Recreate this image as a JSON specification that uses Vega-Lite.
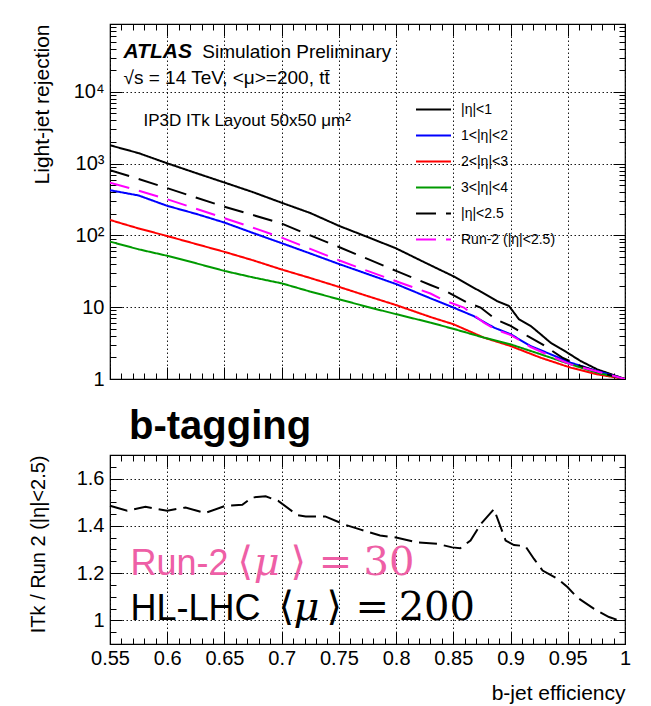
{
  "$schema": "https://vega.github.io/schema/vega-lite/v6.json",
  "padding": {"top": 22, "left": 27, "right": 26, "bottom": 5},
  "background": "white",
  "spacing": 15,
  "datasets": {
    "curves": [
      {"series": "|η|<1", "eff": 0.55, "rej": 1800},
      {"series": "|η|<1", "eff": 0.575, "rej": 1400},
      {"series": "|η|<1", "eff": 0.6, "rej": 1010},
      {"series": "|η|<1", "eff": 0.625, "rej": 740},
      {"series": "|η|<1", "eff": 0.65, "rej": 545},
      {"series": "|η|<1", "eff": 0.675, "rej": 400},
      {"series": "|η|<1", "eff": 0.7, "rej": 285},
      {"series": "|η|<1", "eff": 0.725, "rej": 205},
      {"series": "|η|<1", "eff": 0.75, "rej": 136},
      {"series": "|η|<1", "eff": 0.775, "rej": 95},
      {"series": "|η|<1", "eff": 0.8, "rej": 66},
      {"series": "|η|<1", "eff": 0.825, "rej": 42},
      {"series": "|η|<1", "eff": 0.85, "rej": 27},
      {"series": "|η|<1", "eff": 0.8738, "rej": 16.5},
      {"series": "|η|<1", "eff": 0.888, "rej": 12.2},
      {"series": "|η|<1", "eff": 0.8986, "rej": 10.4},
      {"series": "|η|<1", "eff": 0.9073, "rej": 6.8},
      {"series": "|η|<1", "eff": 0.9175, "rej": 5.5},
      {"series": "|η|<1", "eff": 0.9263, "rej": 4.2},
      {"series": "|η|<1", "eff": 0.935, "rej": 3.2},
      {"series": "|η|<1", "eff": 0.9496, "rej": 2.33},
      {"series": "|η|<1", "eff": 0.9612, "rej": 1.78},
      {"series": "|η|<1", "eff": 0.9758, "rej": 1.36},
      {"series": "|η|<1", "eff": 1.0, "rej": 1},
      {"series": "1<|η|<2", "eff": 0.55, "rej": 426},
      {"series": "1<|η|<2", "eff": 0.575, "rej": 360},
      {"series": "1<|η|<2", "eff": 0.6, "rej": 258},
      {"series": "1<|η|<2", "eff": 0.625, "rej": 200},
      {"series": "1<|η|<2", "eff": 0.65, "rej": 151},
      {"series": "1<|η|<2", "eff": 0.675, "rej": 108},
      {"series": "1<|η|<2", "eff": 0.7, "rej": 78},
      {"series": "1<|η|<2", "eff": 0.725, "rej": 56},
      {"series": "1<|η|<2", "eff": 0.75, "rej": 40},
      {"series": "1<|η|<2", "eff": 0.775, "rej": 29},
      {"series": "1<|η|<2", "eff": 0.8, "rej": 21},
      {"series": "1<|η|<2", "eff": 0.83, "rej": 13.3},
      {"series": "1<|η|<2", "eff": 0.85, "rej": 9.9},
      {"series": "1<|η|<2", "eff": 0.868, "rej": 7.5},
      {"series": "1<|η|<2", "eff": 0.8855, "rej": 5.2},
      {"series": "1<|η|<2", "eff": 0.9, "rej": 4.2},
      {"series": "1<|η|<2", "eff": 0.9175, "rej": 2.88},
      {"series": "1<|η|<2", "eff": 0.935, "rej": 2.21},
      {"series": "1<|η|<2", "eff": 0.9525, "rej": 1.69},
      {"series": "1<|η|<2", "eff": 0.975, "rej": 1.3},
      {"series": "1<|η|<2", "eff": 1.0, "rej": 1},
      {"series": "2<|η|<3", "eff": 0.55, "rej": 164},
      {"series": "2<|η|<3", "eff": 0.575, "rej": 125},
      {"series": "2<|η|<3", "eff": 0.6, "rej": 98},
      {"series": "2<|η|<3", "eff": 0.625, "rej": 76},
      {"series": "2<|η|<3", "eff": 0.65, "rej": 59},
      {"series": "2<|η|<3", "eff": 0.675, "rej": 45},
      {"series": "2<|η|<3", "eff": 0.7, "rej": 33.5},
      {"series": "2<|η|<3", "eff": 0.725, "rej": 25.5},
      {"series": "2<|η|<3", "eff": 0.75, "rej": 19.2},
      {"series": "2<|η|<3", "eff": 0.775, "rej": 14.3},
      {"series": "2<|η|<3", "eff": 0.8, "rej": 10.7},
      {"series": "2<|η|<3", "eff": 0.83, "rej": 7.3},
      {"series": "2<|η|<3", "eff": 0.85, "rej": 5.8},
      {"series": "2<|η|<3", "eff": 0.8767, "rej": 3.77},
      {"series": "2<|η|<3", "eff": 0.9, "rej": 2.88},
      {"series": "2<|η|<3", "eff": 0.9263, "rej": 1.98},
      {"series": "2<|η|<3", "eff": 0.9525, "rej": 1.44},
      {"series": "2<|η|<3", "eff": 0.9758, "rej": 1.16},
      {"series": "2<|η|<3", "eff": 1.0, "rej": 1},
      {"series": "3<|η|<4", "eff": 0.55, "rej": 82},
      {"series": "3<|η|<4", "eff": 0.575, "rej": 64},
      {"series": "3<|η|<4", "eff": 0.6, "rej": 52},
      {"series": "3<|η|<4", "eff": 0.625, "rej": 41},
      {"series": "3<|η|<4", "eff": 0.65, "rej": 32},
      {"series": "3<|η|<4", "eff": 0.675, "rej": 26},
      {"series": "3<|η|<4", "eff": 0.7, "rej": 21.5},
      {"series": "3<|η|<4", "eff": 0.725, "rej": 16.5},
      {"series": "3<|η|<4", "eff": 0.75, "rej": 12.9},
      {"series": "3<|η|<4", "eff": 0.775, "rej": 10.1},
      {"series": "3<|η|<4", "eff": 0.8, "rej": 8.0},
      {"series": "3<|η|<4", "eff": 0.83, "rej": 6.1},
      {"series": "3<|η|<4", "eff": 0.85, "rej": 5.0},
      {"series": "3<|η|<4", "eff": 0.8767, "rej": 3.77},
      {"series": "3<|η|<4", "eff": 0.9, "rej": 3.04},
      {"series": "3<|η|<4", "eff": 0.9263, "rej": 2.21},
      {"series": "3<|η|<4", "eff": 0.9525, "rej": 1.6},
      {"series": "3<|η|<4", "eff": 0.9758, "rej": 1.22},
      {"series": "3<|η|<4", "eff": 1.0, "rej": 1},
      {"series": "|η|<2.5", "eff": 0.55, "rej": 811},
      {"series": "|η|<2.5", "eff": 0.575, "rej": 610},
      {"series": "|η|<2.5", "eff": 0.6, "rej": 455},
      {"series": "|η|<2.5", "eff": 0.625, "rej": 338},
      {"series": "|η|<2.5", "eff": 0.65, "rej": 250},
      {"series": "|η|<2.5", "eff": 0.675, "rej": 192},
      {"series": "|η|<2.5", "eff": 0.7, "rej": 146},
      {"series": "|η|<2.5", "eff": 0.725, "rej": 100},
      {"series": "|η|<2.5", "eff": 0.75, "rej": 69},
      {"series": "|η|<2.5", "eff": 0.775, "rej": 47},
      {"series": "|η|<2.5", "eff": 0.8, "rej": 32},
      {"series": "|η|<2.5", "eff": 0.83, "rej": 20.4},
      {"series": "|η|<2.5", "eff": 0.8432, "rej": 16.8},
      {"series": "|η|<2.5", "eff": 0.8622, "rej": 11.6},
      {"series": "|η|<2.5", "eff": 0.8738, "rej": 9.9},
      {"series": "|η|<2.5", "eff": 0.8869, "rej": 6.8},
      {"series": "|η|<2.5", "eff": 0.9, "rej": 5.5},
      {"series": "|η|<2.5", "eff": 0.9147, "rej": 3.98},
      {"series": "|η|<2.5", "eff": 0.9278, "rej": 3.04},
      {"series": "|η|<2.5", "eff": 0.9452, "rej": 1.98},
      {"series": "|η|<2.5", "eff": 0.9612, "rej": 1.52},
      {"series": "|η|<2.5", "eff": 0.98, "rej": 1.2},
      {"series": "|η|<2.5", "eff": 1.0, "rej": 1},
      {"series": "Run-2 (|η|<2.5)", "eff": 0.55, "rej": 544},
      {"series": "Run-2 (|η|<2.5)", "eff": 0.575, "rej": 420},
      {"series": "Run-2 (|η|<2.5)", "eff": 0.6, "rej": 319},
      {"series": "Run-2 (|η|<2.5)", "eff": 0.625, "rej": 236},
      {"series": "Run-2 (|η|<2.5)", "eff": 0.65, "rej": 174},
      {"series": "Run-2 (|η|<2.5)", "eff": 0.675, "rej": 128},
      {"series": "Run-2 (|η|<2.5)", "eff": 0.7, "rej": 93},
      {"series": "Run-2 (|η|<2.5)", "eff": 0.725, "rej": 65},
      {"series": "Run-2 (|η|<2.5)", "eff": 0.75, "rej": 45},
      {"series": "Run-2 (|η|<2.5)", "eff": 0.775, "rej": 32},
      {"series": "Run-2 (|η|<2.5)", "eff": 0.8, "rej": 23},
      {"series": "Run-2 (|η|<2.5)", "eff": 0.83, "rej": 15.5},
      {"series": "Run-2 (|η|<2.5)", "eff": 0.8418, "rej": 12.5},
      {"series": "Run-2 (|η|<2.5)", "eff": 0.8592, "rej": 9.9},
      {"series": "Run-2 (|η|<2.5)", "eff": 0.865, "rej": 8.4},
      {"series": "Run-2 (|η|<2.5)", "eff": 0.8767, "rej": 6.1},
      {"series": "Run-2 (|η|<2.5)", "eff": 0.8869, "rej": 4.9},
      {"series": "Run-2 (|η|<2.5)", "eff": 0.9, "rej": 4.1},
      {"series": "Run-2 (|η|<2.5)", "eff": 0.9088, "rej": 3.39},
      {"series": "Run-2 (|η|<2.5)", "eff": 0.9175, "rej": 2.79},
      {"series": "Run-2 (|η|<2.5)", "eff": 0.935, "rej": 2.09},
      {"series": "Run-2 (|η|<2.5)", "eff": 0.9525, "rej": 1.6},
      {"series": "Run-2 (|η|<2.5)", "eff": 0.975, "rej": 1.28},
      {"series": "Run-2 (|η|<2.5)", "eff": 1.0, "rej": 1}
    ],
    "ratio": [
      {"eff": 0.55, "ratio": 1.485},
      {"eff": 0.565, "ratio": 1.464},
      {"eff": 0.581, "ratio": 1.481},
      {"eff": 0.6, "ratio": 1.464},
      {"eff": 0.616, "ratio": 1.478},
      {"eff": 0.633, "ratio": 1.454},
      {"eff": 0.651, "ratio": 1.485},
      {"eff": 0.6656, "ratio": 1.489},
      {"eff": 0.674, "ratio": 1.52},
      {"eff": 0.686, "ratio": 1.525},
      {"eff": 0.697, "ratio": 1.506},
      {"eff": 0.7136, "ratio": 1.446},
      {"eff": 0.721, "ratio": 1.44},
      {"eff": 0.738, "ratio": 1.44},
      {"eff": 0.756, "ratio": 1.404},
      {"eff": 0.769, "ratio": 1.384},
      {"eff": 0.786, "ratio": 1.359},
      {"eff": 0.8, "ratio": 1.351},
      {"eff": 0.8185, "ratio": 1.33},
      {"eff": 0.836, "ratio": 1.324},
      {"eff": 0.849, "ratio": 1.309},
      {"eff": 0.856, "ratio": 1.305},
      {"eff": 0.865, "ratio": 1.338},
      {"eff": 0.874, "ratio": 1.408},
      {"eff": 0.8855, "ratio": 1.471},
      {"eff": 0.8957, "ratio": 1.338},
      {"eff": 0.903, "ratio": 1.319},
      {"eff": 0.913, "ratio": 1.314},
      {"eff": 0.9205, "ratio": 1.26},
      {"eff": 0.928, "ratio": 1.211},
      {"eff": 0.942, "ratio": 1.173},
      {"eff": 0.9497, "ratio": 1.141},
      {"eff": 0.958, "ratio": 1.098},
      {"eff": 0.973, "ratio": 1.049},
      {"eff": 0.986, "ratio": 1.014},
      {"eff": 0.9947, "ratio": 1.0}
    ]
  },
  "vconcat": [
    {
      "width": 515,
      "height": 355,
      "layer": [
        {
          "data": {"name": "curves"},
          "mark": {"type": "line", "strokeWidth": 2, "clip": true},
          "encoding": {
            "x": {
              "field": "eff", "type": "quantitative",
              "scale": {"domain": [0.55, 1.0], "nice": false, "zero": false},
              "axis": {
                "orient": "bottom", "title": null, "labels": false, "domain": false,
                "values": [0.55,0.56,0.57,0.58,0.59,0.6,0.61,0.62,0.63,0.64,0.65,0.66,0.67,0.68,0.69,0.7,0.71,0.72,0.73,0.74,0.75,0.76,0.77,0.78,0.79,0.8,0.81,0.82,0.83,0.84,0.85,0.86,0.87,0.88,0.89,0.9,0.91,0.92,0.93,0.94,0.95,0.96,0.97,0.98,0.99,1],
                "tickSize": {"condition": {"test": "abs(datum.value*20-round(datum.value*20))<1e-6", "value": -12}, "value": -6},
                "grid": true, "gridColor": "#000", "gridWidth": 1, "gridDash": [1.5, 2.5],
                "gridOpacity": {"condition": {"test": "abs(datum.value*20-round(datum.value*20))<1e-6", "value": 0.9}, "value": 0}
              }
            },
            "y": {
              "field": "rej", "type": "quantitative",
              "scale": {"type": "log", "domain": [1, 88000], "nice": false},
              "axis": {
                "orient": "left", "title": "Light-jet rejection", "titleAnchor": "end", "titleFontSize": 21,
                "titleFontWeight": "normal", "titleX": -58, "titleColor": "#000",
                "values": [1,2,3,4,5,6,7,8,9,10,20,30,40,50,60,70,80,90,100,200,300,400,500,600,700,800,900,1000,2000,3000,4000,5000,6000,7000,8000,9000,10000,20000,30000,40000,50000,60000,70000,80000],
                "labelExpr": "datum.value==1?'1':datum.value==10?'10':datum.value==100?'10²':datum.value==1000?'10³':datum.value==10000?'10⁴':''",
                "labelFontSize": 20, "labelPadding": 18, "labelColor": "#000", "domain": false,
                "tickSize": {"condition": {"test": "abs(log(datum.value)/LN10-round(log(datum.value)/LN10))<1e-6", "value": -12}, "value": -6},
                "grid": true, "gridColor": "#000", "gridWidth": 1, "gridDash": [1.5, 2.5],
                "gridOpacity": {"condition": {"test": "abs(log(datum.value)/LN10-round(log(datum.value)/LN10))<1e-6", "value": 0.9}, "value": 0}
              }
            },
            "color": {
              "field": "series", "type": "nominal",
              "scale": {
                "domain": ["|η|<1", "1<|η|<2", "2<|η|<3", "3<|η|<4", "|η|<2.5", "Run-2 (|η|<2.5)"],
                "range": ["#000000", "#0000ff", "#ff0000", "#009a00", "#000000", "#ff00ff"]
              },
              "legend": {
                "title": null, "orient": "none", "legendX": 305, "legendY": 67, "padding": 0,
                "symbolType": "stroke", "symbolSize": 1225, "symbolStrokeWidth": 2,
                "labelFontSize": 14, "labelOffset": 9, "rowPadding": -19.5, "labelLimit": 300, "labelColor": "#000"
              }
            },
            "strokeDash": {
              "field": "series", "type": "nominal",
              "scale": {
                "domain": ["|η|<1", "1<|η|<2", "2<|η|<3", "3<|η|<4", "|η|<2.5", "Run-2 (|η|<2.5)"],
                "range": [[1, 0], [1, 0], [1, 0], [1, 0], [20, 10], [20, 10]]
              },
              "legend": {
                "title": null, "orient": "none", "legendX": 305, "legendY": 67, "padding": 0,
                "symbolType": "stroke", "symbolSize": 1225, "symbolStrokeWidth": 2,
                "labelFontSize": 14, "labelOffset": 9, "rowPadding": -19.5, "labelLimit": 300, "labelColor": "#000"
              }
            }
          }
        },
        {
          "data": {"values": [{"t": "ATLAS", "eff": 0.5618, "val": 29800}]},
          "mark": {"type": "text", "align": "left", "baseline": "alphabetic", "fontSize": 21, "fontWeight": "bold", "fontStyle": "italic", "color": "#000"},
          "encoding": {
            "x": {
              "field": "eff", "type": "quantitative",
              "axis": {
                "orient": "top", "title": null, "labels": false, "domain": false, "grid": false,
                "values": [0.55,0.56,0.57,0.58,0.59,0.6,0.61,0.62,0.63,0.64,0.65,0.66,0.67,0.68,0.69,0.7,0.71,0.72,0.73,0.74,0.75,0.76,0.77,0.78,0.79,0.8,0.81,0.82,0.83,0.84,0.85,0.86,0.87,0.88,0.89,0.9,0.91,0.92,0.93,0.94,0.95,0.96,0.97,0.98,0.99,1],
                "tickSize": {"condition": {"test": "abs(datum.value*20-round(datum.value*20))<1e-6", "value": -12}, "value": -6}
              }
            },
            "y": {
              "field": "val", "type": "quantitative",
              "axis": {
                "orient": "right", "title": null, "labels": false, "domain": false, "grid": false,
                "values": [1,2,3,4,5,6,7,8,9,10,20,30,40,50,60,70,80,90,100,200,300,400,500,600,700,800,900,1000,2000,3000,4000,5000,6000,7000,8000,9000,10000,20000,30000,40000,50000,60000,70000,80000],
                "tickSize": {"condition": {"test": "abs(log(datum.value)/LN10-round(log(datum.value)/LN10))<1e-6", "value": -12}, "value": -6}
              }
            },
            "text": {"field": "t"}
          }
        },
        {
          "data": {"values": [
            {"t": "Simulation Preliminary", "eff": 0.6306, "val": 29800},
            {"t": "√s = 14 TeV, <μ>=200, tt̄", "eff": 0.5618, "val": 12800}
          ]},
          "mark": {"type": "text", "align": "left", "baseline": "alphabetic", "fontSize": 19, "color": "#000"},
          "encoding": {
            "x": {"field": "eff", "type": "quantitative", "axis": null},
            "y": {"field": "val", "type": "quantitative", "axis": null},
            "text": {"field": "t"}
          }
        },
        {
          "data": {"values": [{"t": "IP3D ITk Layout 50x50 μm²", "eff": 0.5793, "val": 3360}]},
          "mark": {"type": "text", "align": "left", "baseline": "alphabetic", "fontSize": 17, "color": "#000"},
          "encoding": {
            "x": {"field": "eff", "type": "quantitative", "axis": null},
            "y": {"field": "val", "type": "quantitative", "axis": null},
            "text": {"field": "t"}
          }
        }
      ],
      "resolve": {"axis": {"x": "independent", "y": "independent"}}
    },
    {
      "width": 515,
      "height": 189,
      "title": {"text": "b-tagging", "fontSize": 40, "fontWeight": "bold", "anchor": "start", "frame": "group", "dx": 19, "baseline": "alphabetic", "offset": -24, "color": "#000"},
      "layer": [
        {
          "data": {"name": "ratio"},
          "mark": {"type": "line", "color": "#000", "strokeWidth": 2, "strokeDash": [18, 7]},
          "encoding": {
            "x": {
              "field": "eff", "type": "quantitative",
              "scale": {"domain": [0.55, 1.0], "nice": false, "zero": false},
              "axis": {
                "orient": "bottom", "title": "b-jet efficiency", "titleAnchor": "end", "titleFontSize": 21,
                "titleFontWeight": "normal", "titlePadding": 14, "titleColor": "#000",
                "values": [0.55,0.56,0.57,0.58,0.59,0.6,0.61,0.62,0.63,0.64,0.65,0.66,0.67,0.68,0.69,0.7,0.71,0.72,0.73,0.74,0.75,0.76,0.77,0.78,0.79,0.8,0.81,0.82,0.83,0.84,0.85,0.86,0.87,0.88,0.89,0.9,0.91,0.92,0.93,0.94,0.95,0.96,0.97,0.98,0.99,1],
                "labelExpr": "abs(datum.value*20-round(datum.value*20))<1e-6 ? format(datum.value, '.2~f') : ''",
                "labelFontSize": 20, "labelPadding": 16, "labelColor": "#000", "labelFlush": false, "domain": false,
                "tickSize": {"condition": {"test": "abs(datum.value*20-round(datum.value*20))<1e-6", "value": -12}, "value": -6},
                "grid": true, "gridColor": "#000", "gridWidth": 1, "gridDash": [1.5, 2.5],
                "gridOpacity": {"condition": {"test": "abs(datum.value*20-round(datum.value*20))<1e-6", "value": 0.9}, "value": 0}
              }
            },
            "y": {
              "field": "ratio", "type": "quantitative",
              "scale": {"domain": [0.9, 1.7], "nice": false, "zero": false},
              "axis": {
                "orient": "left", "title": "ITk / Run 2 (|η|<2.5)", "titleAnchor": "end", "titleFontSize": 20,
                "titleFontWeight": "normal", "titleX": -62, "titleColor": "#000",
                "values": [0.9,0.95,1,1.05,1.1,1.15,1.2,1.25,1.3,1.35,1.4,1.45,1.5,1.55,1.6,1.65,1.7],
                "labelExpr": "abs(datum.value*5-round(datum.value*5))<1e-6 ? (datum.value==1 ? '1' : format(datum.value, '.1f')) : ''",
                "labelFontSize": 20, "labelPadding": 18, "labelColor": "#000", "domain": false,
                "tickSize": {"condition": {"test": "abs(datum.value*5-round(datum.value*5))<1e-6", "value": -12}, "value": -6},
                "grid": true, "gridColor": "#000", "gridWidth": 1, "gridDash": [1.5, 2.5],
                "gridOpacity": {"condition": {"test": "abs(datum.value*5-round(datum.value*5))<1e-6", "value": 0.9}, "value": 0}
              }
            }
          }
        },
        {
          "data": {"values": [{"t": "Run-2", "eff": 0.5679, "val": 1.19}]},
          "mark": {"type": "text", "align": "left", "baseline": "alphabetic", "fontSize": 36, "color": "#ee5fa6"},
          "encoding": {
            "x": {
              "field": "eff", "type": "quantitative",
              "axis": {
                "orient": "top", "title": null, "labels": false, "domain": false, "grid": false,
                "values": [0.55,0.56,0.57,0.58,0.59,0.6,0.61,0.62,0.63,0.64,0.65,0.66,0.67,0.68,0.69,0.7,0.71,0.72,0.73,0.74,0.75,0.76,0.77,0.78,0.79,0.8,0.81,0.82,0.83,0.84,0.85,0.86,0.87,0.88,0.89,0.9,0.91,0.92,0.93,0.94,0.95,0.96,0.97,0.98,0.99,1],
                "tickSize": {"condition": {"test": "abs(datum.value*20-round(datum.value*20))<1e-6", "value": -12}, "value": -6}
              }
            },
            "y": {
              "field": "val", "type": "quantitative",
              "axis": {
                "orient": "right", "title": null, "labels": false, "domain": false, "grid": false,
                "values": [0.9,0.95,1,1.05,1.1,1.15,1.2,1.25,1.3,1.35,1.4,1.45,1.5,1.55,1.6,1.65,1.7],
                "tickSize": {"condition": {"test": "abs(datum.value*5-round(datum.value*5))<1e-6", "value": -12}, "value": -6}
              }
            },
            "text": {"field": "t"}
          }
        },
        {
          "data": {"values": [
            {"t": "⟨", "eff": 0.6615, "val": 1.19},
            {"t": "⟩", "eff": 0.7078, "val": 1.19},
            {"t": "=", "eff": 0.7323, "val": 1.19},
            {"t": "30", "eff": 0.7716, "val": 1.19}
          ]},
          "mark": {"type": "text", "align": "left", "baseline": "alphabetic", "fontSize": 40, "font": "DejaVu Serif", "color": "#ee5fa6"},
          "encoding": {
            "x": {"field": "eff", "type": "quantitative", "axis": null},
            "y": {"field": "val", "type": "quantitative", "axis": null},
            "text": {"field": "t"}
          }
        },
        {
          "data": {"values": [{"t": "μ", "eff": 0.6755, "val": 1.19}]},
          "mark": {"type": "text", "align": "left", "baseline": "alphabetic", "fontSize": 40, "font": "DejaVu Serif", "fontStyle": "italic", "color": "#ee5fa6"},
          "encoding": {
            "x": {"field": "eff", "type": "quantitative", "axis": null},
            "y": {"field": "val", "type": "quantitative", "axis": null},
            "text": {"field": "t"}
          }
        },
        {
          "data": {"values": [{"t": "HL-LHC", "eff": 0.5679, "val": 1.0}]},
          "mark": {"type": "text", "align": "left", "baseline": "alphabetic", "fontSize": 36, "color": "#000"},
          "encoding": {
            "x": {"field": "eff", "type": "quantitative", "axis": null},
            "y": {"field": "val", "type": "quantitative", "axis": null},
            "text": {"field": "t"}
          }
        },
        {
          "data": {"values": [
            {"t": "⟨", "eff": 0.6973, "val": 1.0},
            {"t": "⟩", "eff": 0.7392, "val": 1.0},
            {"t": "=", "eff": 0.7646, "val": 1.0},
            {"t": "200", "eff": 0.8022, "val": 1.0}
          ]},
          "mark": {"type": "text", "align": "left", "baseline": "alphabetic", "fontSize": 40, "font": "DejaVu Serif", "color": "#000"},
          "encoding": {
            "x": {"field": "eff", "type": "quantitative", "axis": null},
            "y": {"field": "val", "type": "quantitative", "axis": null},
            "text": {"field": "t"}
          }
        },
        {
          "data": {"values": [{"t": "μ", "eff": 0.7104, "val": 1.0}]},
          "mark": {"type": "text", "align": "left", "baseline": "alphabetic", "fontSize": 40, "font": "DejaVu Serif", "fontStyle": "italic", "color": "#000"},
          "encoding": {
            "x": {"field": "eff", "type": "quantitative", "axis": null},
            "y": {"field": "val", "type": "quantitative", "axis": null},
            "text": {"field": "t"}
          }
        }
      ],
      "resolve": {"axis": {"x": "independent", "y": "independent"}}
    }
  ],
  "config": {
    "font": "Liberation Sans",
    "view": {"stroke": "#000", "strokeWidth": 1.2},
    "axis": {"tickColor": "#000", "tickWidth": 1, "labelFont": "Liberation Sans", "titleFont": "Liberation Sans"},
    "title": {"font": "Liberation Sans"}
  }
}
